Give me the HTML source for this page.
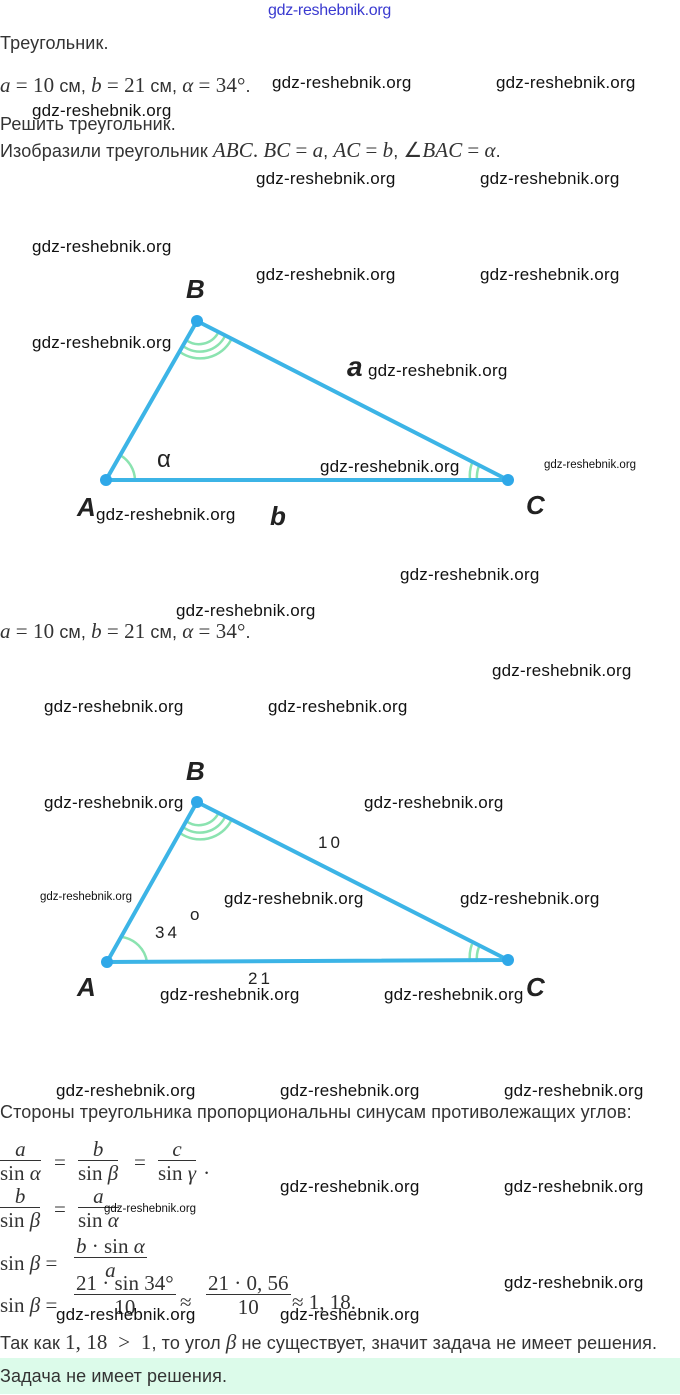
<!DOCTYPE html>
<html><head><meta charset="utf-8"><style>
body{margin:0;width:680px;height:1395px;background:#fff;position:relative;overflow:hidden;font-family:"Liberation Sans",sans-serif;color:#333}
.t{position:absolute;font-size:18px;letter-spacing:0.1px;white-space:nowrap;left:0}
.m{font-family:"Liberation Serif",serif;font-size:21px;font-style:italic}
.r{font-family:"Liberation Serif",serif;font-size:21px}
.w{position:absolute;font-family:"Liberation Sans",sans-serif;font-size:17px;color:#111;white-space:nowrap;letter-spacing:0.2px}
.s{font-size:11.5px;letter-spacing:0}
.f{position:absolute;font-family:"Liberation Serif",serif;font-size:21px;text-align:center;color:#333}
.f .n{border-bottom:1px solid #333;padding:0 2px;display:block;line-height:22px}
.f .d{display:block;line-height:24px}
svg{position:absolute;left:0;top:0}
</style></head><body>
<div class="w" style="left:268px;top:2px;color:#3a3ad0;font-size:16px;letter-spacing:-0.3px">gdz-reshebnik.org</div>
<div class="t" style="top:33px">Треугольник.</div>
<div class="t" style="top:73px"><span class="m">a</span> <span class="r">= 10</span> см, <span class="m">b</span> <span class="r">= 21</span> см, <span class="m">α</span> <span class="r">= 34°</span>.</div>
<div class="t" style="top:114px">Решить треугольник.</div>
<div class="t" style="top:138px">Изобразили треугольник <span class="m">ABC</span><span class="r">.</span> <span class="m">BC</span> <span class="r">=</span> <span class="m">a</span>, <span class="m">AC</span> <span class="r">=</span> <span class="m">b</span>, <span class="r">∠</span><span class="m">BAC</span> <span class="r">=</span> <span class="m">α</span>.</div>

<svg width="680" height="1395">
<g fill="none" stroke="#8be3b0" stroke-width="2.5">
<path d="M120,455 A30,30 0 0 1 135,480"/>
<path d="M186,340 A22,22 0 0 0 218,333"/>
<path d="M183,346 A28,28 0 0 0 225,336"/>
<path d="M180,352 A35,35 0 0 0 231,340"/>
<path d="M477,480 A30,30 0 0 1 479,466"/>
<path d="M470,480 A38,38 0 0 1 472,463"/>
<path d="M122,937 A30,30 0 0 1 147,962"/>
<path d="M186,821 A22,22 0 0 0 218,814"/>
<path d="M183,827 A28,28 0 0 0 225,817"/>
<path d="M180,833 A35,35 0 0 0 231,821"/>
<path d="M477,962 A30,30 0 0 1 479,947"/>
<path d="M470,962 A38,38 0 0 1 472,944"/>
</g>
<g stroke="#3cb4e6" stroke-width="4" fill="none" stroke-linejoin="round">
<path d="M106,480 L197,321 L508,480 Z"/>
<path d="M107,962 L197,802 L508,960 Z"/>
</g>
<g fill="#2fa8e8">
<circle cx="106" cy="480" r="6"/><circle cx="197" cy="321" r="6"/><circle cx="508" cy="480" r="6"/>
<circle cx="107" cy="962" r="6"/><circle cx="197" cy="802" r="6"/><circle cx="508" cy="960" r="6"/>
</g>
<g font-family="Liberation Sans,sans-serif" font-style="italic" font-weight="bold" font-size="26" fill="#222">
<text x="186" y="298">B</text><text x="77" y="516">A</text><text x="526" y="514">C</text>
<text x="347" y="376" font-size="28">a</text><text x="270" y="525">b</text>
<text x="186" y="780">B</text><text x="77" y="996">A</text><text x="526" y="996">C</text>
</g>
<g font-family="Liberation Sans,sans-serif" fill="#222">
<text x="157" y="467" font-size="24">α</text>
<text x="318" y="848" font-size="17" letter-spacing="3">10</text>
<text x="155" y="938" font-size="17" letter-spacing="3">34</text>
<text x="190" y="920" font-size="17">o</text>
<text x="248" y="984" font-size="17" letter-spacing="3">21</text>
</g>
</svg>

<div class="t" style="top:619px"><span class="m">a</span> <span class="r">= 10</span> см, <span class="m">b</span> <span class="r">= 21</span> см, <span class="m">α</span> <span class="r">= 34°</span>.</div>

<div class="t" style="top:1102px">Стороны треугольника пропорциональны синусам противолежащих углов:</div>
<div class="f" style="left:0;top:1138px"><span class="n"><i>a</i></span><span class="d">sin <i>α</i></span></div>
<div class="f" style="left:54px;top:1150px">=</div>
<div class="f" style="left:78px;top:1138px"><span class="n"><i>b</i></span><span class="d">sin <i>β</i></span></div>
<div class="f" style="left:134px;top:1150px">=</div>
<div class="f" style="left:158px;top:1138px"><span class="n"><i>c</i></span><span class="d">sin <i>γ</i></span>
</div><div class="f" style="left:204px;top:1155px">.</div>
<div class="f" style="left:0;top:1185px"><span class="n"><i>b</i></span><span class="d">sin <i>β</i></span></div>
<div class="f" style="left:54px;top:1197px">=</div>
<div class="f" style="left:78px;top:1185px"><span class="n"><i>a</i></span><span class="d">sin <i>α</i></span></div>
<div class="f" style="left:0;top:1251px">sin <i>β</i> =</div>
<div class="f" style="left:74px;top:1235px"><span class="n"><i>b</i> · sin <i>α</i></span><span class="d"><i>a</i></span></div>
<div class="f" style="left:0;top:1293px">sin <i>β</i> =</div>
<div class="f" style="left:74px;top:1272px"><span class="n">21 · sin 34°</span><span class="d">10</span></div>
<div class="f" style="left:180px;top:1290px">≈</div>
<div class="f" style="left:206px;top:1272px"><span class="n">21 · 0, 56</span><span class="d">10</span></div>
<div class="f" style="left:292px;top:1290px">≈ 1, 18.</div>
<div class="t" style="top:1330px">Так как <span class="r">1, 18 &nbsp;&gt;&nbsp; 1</span>, то угол <span class="m">β</span> не существует, значит задача не имеет решения.</div>
<div style="position:absolute;left:0;top:1358px;width:680px;height:36px;background:#dcfbea"></div>
<div class="t" style="top:1366px">Задача не имеет решения.</div>

<div class="w" style="left:272px;top:73px">gdz-reshebnik.org</div>
<div class="w" style="left:496px;top:73px">gdz-reshebnik.org</div>
<div class="w" style="left:32px;top:101px">gdz-reshebnik.org</div>
<div class="w" style="left:256px;top:169px">gdz-reshebnik.org</div>
<div class="w" style="left:480px;top:169px">gdz-reshebnik.org</div>
<div class="w" style="left:32px;top:237px">gdz-reshebnik.org</div>
<div class="w" style="left:256px;top:265px">gdz-reshebnik.org</div>
<div class="w" style="left:480px;top:265px">gdz-reshebnik.org</div>
<div class="w" style="left:32px;top:333px">gdz-reshebnik.org</div>
<div class="w" style="left:368px;top:361px">gdz-reshebnik.org</div>
<div class="w" style="left:320px;top:457px">gdz-reshebnik.org</div>
<div class="w s" style="left:544px;top:459px">gdz-reshebnik.org</div>
<div class="w" style="left:96px;top:505px">gdz-reshebnik.org</div>
<div class="w" style="left:400px;top:565px">gdz-reshebnik.org</div>
<div class="w" style="left:176px;top:601px">gdz-reshebnik.org</div>
<div class="w" style="left:492px;top:661px">gdz-reshebnik.org</div>
<div class="w" style="left:44px;top:697px">gdz-reshebnik.org</div>
<div class="w" style="left:268px;top:697px">gdz-reshebnik.org</div>
<div class="w" style="left:44px;top:793px">gdz-reshebnik.org</div>
<div class="w" style="left:364px;top:793px">gdz-reshebnik.org</div>
<div class="w s" style="left:40px;top:891px">gdz-reshebnik.org</div>
<div class="w" style="left:224px;top:889px">gdz-reshebnik.org</div>
<div class="w" style="left:460px;top:889px">gdz-reshebnik.org</div>
<div class="w" style="left:160px;top:985px">gdz-reshebnik.org</div>
<div class="w" style="left:384px;top:985px">gdz-reshebnik.org</div>
<div class="w" style="left:56px;top:1081px">gdz-reshebnik.org</div>
<div class="w" style="left:280px;top:1081px">gdz-reshebnik.org</div>
<div class="w" style="left:504px;top:1081px">gdz-reshebnik.org</div>
<div class="w" style="left:280px;top:1177px">gdz-reshebnik.org</div>
<div class="w" style="left:504px;top:1177px">gdz-reshebnik.org</div>
<div class="w s" style="left:104px;top:1203px">gdz-reshebnik.org</div>
<div class="w" style="left:504px;top:1273px">gdz-reshebnik.org</div>
<div class="w" style="left:56px;top:1305px">gdz-reshebnik.org</div>
<div class="w" style="left:280px;top:1305px">gdz-reshebnik.org</div>
</body></html>
